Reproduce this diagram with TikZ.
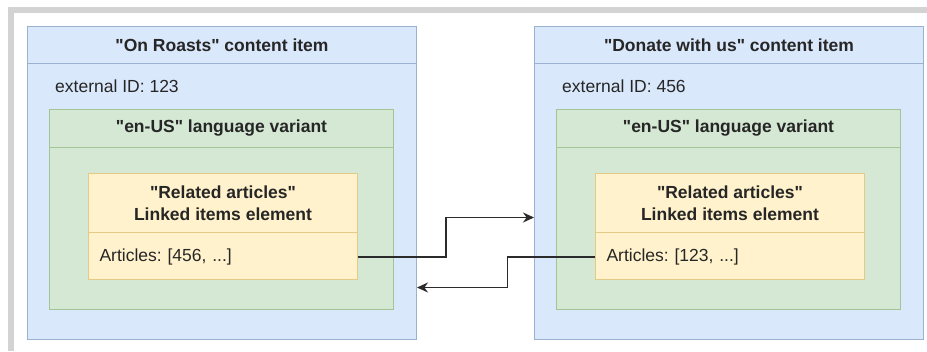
\documentclass[tikz,border=0pt]{standalone}
\usepackage{fontspec}
\setmainfont{Liberation Sans}
\usetikzlibrary{arrows.meta}

\frenchspacing
\newcommand\dq{\XeTeXglyph\XeTeXcharglyph"22\relax} % straight double quote

\definecolor{framegray}{HTML}{D3D3D3}
\definecolor{itemfill}{HTML}{DAE8FC}
\definecolor{itemline}{HTML}{9CB0D0}
\definecolor{variantfill}{HTML}{D5E8D4}
\definecolor{variantline}{HTML}{A3C595}
\definecolor{elementfill}{HTML}{FFF2CC}
\definecolor{elementline}{HTML}{E3CB86}
\definecolor{linkline}{HTML}{2B2B2B}

\tikzset{
  txt/.style={font=\fontsize{17.5}{22}\selectfont, text=black!85},
  itembox/.style={draw=itemline, fill=itemfill, line width=1pt, inner sep=0pt,
    minimum width=389pt, minimum height=313pt, anchor=north west},
  itemhead/.style={txt, font=\fontsize{17.5}{22}\selectfont\bfseries, draw=itemline, line width=1pt,
    minimum width=389pt, minimum height=37pt, inner sep=0pt},
  variantbox/.style={draw=variantline, fill=variantfill, line width=1pt, inner sep=0pt,
    minimum width=344pt, minimum height=200pt, anchor=north west},
  varianthead/.style={txt, font=\fontsize{17.5}{22}\selectfont\bfseries, draw=variantline, line width=1pt,
    minimum width=344pt, minimum height=38pt, inner sep=0pt},
  elementbox/.style={draw=elementline, fill=elementfill, line width=1pt, inner sep=0pt,
    minimum width=269pt, minimum height=106pt, anchor=north west},
  elementhead/.style={txt, font=\fontsize{17.5}{22}\selectfont\bfseries, draw=elementline, line width=1pt,
    minimum width=269pt, minimum height=59pt, inner sep=0pt, align=center},
  articlerow/.style={txt, inner xsep=11pt, inner ysep=0pt, text width=247pt, align=left,
    minimum height=47pt},
  link/.style={draw=linkline, line width=1.6pt}
}

\begin{document}
\begin{tikzpicture}[x=1pt,y=-1pt,>={Stealth[length=11pt,width=10pt]}]
  \useasboundingbox (0,0) rectangle (927,351);
  \fill[framegray] (8,7) rectangle (927,13); % frame top
  \fill[framegray] (8,7) rectangle (14,351); % frame left

  % content items
  \foreach \n/\x/\itemname/\extid/\linkid in {
      1/27/{\dq On Roasts\dq{} content item}/123/456,
      2/534/{\dq Donate with us\dq{} content item}/456/123} {
    \node[itembox] (item\n) at (\x,26) {};
    \node[itemhead, anchor=north] (itemhead\n) at (item\n.north) {\itemname};
    \node[txt, anchor=west, inner sep=0pt] (extid\n) at (\x+28,86) {external ID: \extid};
    \node[variantbox] (variant\n) at (\x+22,109) {};
    \node[varianthead, anchor=north] (varianthead\n) at (variant\n.north) {\dq en-US\dq{} language variant};
    \node[elementbox] (element\n) at (\x+61,173) {};
    \node[elementhead, anchor=north] (elementhead\n) at (element\n.north) {\dq Related articles\dq\\Linked items element};
    \node[articlerow, anchor=north] (articles\n) at (elementhead\n.south) {Articles: [\linkid, ...]};
  }

  % links
  \draw[link,->] (articles1.east) -- ++(88,0) |- ([yshift=-34.5pt]item2.west);
  \draw[link,->] (articles2.west) -- ++(-88,0) |- ([yshift=-104.5pt]item1.east);
\end{tikzpicture}
\end{document}
